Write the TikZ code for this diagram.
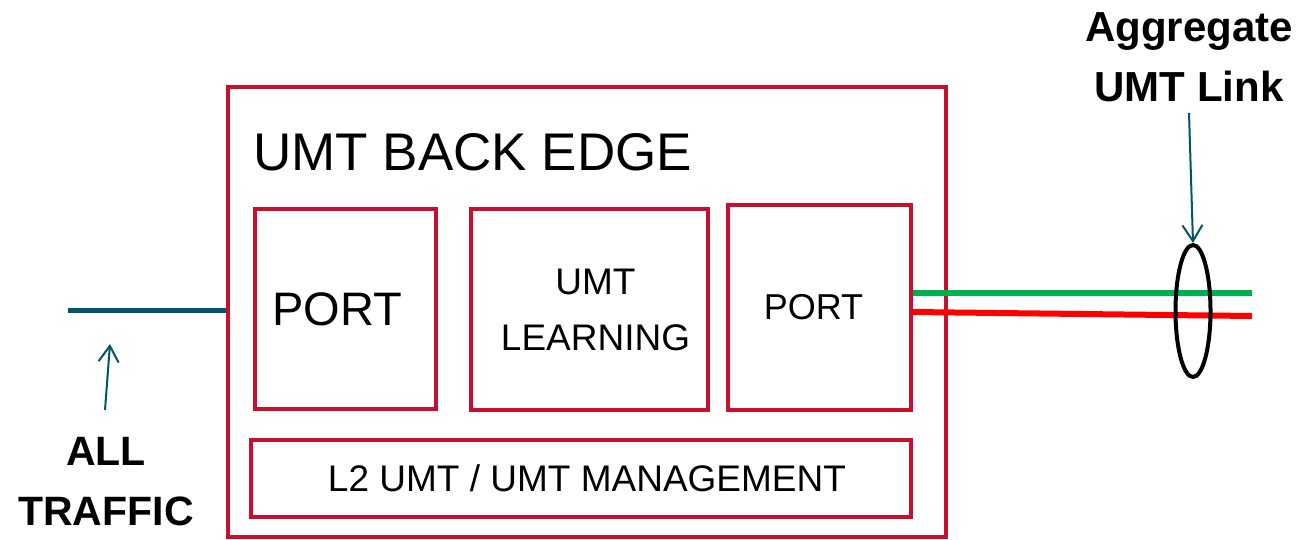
\documentclass[tikz,border=0pt]{standalone}
\usepackage{fontspec}
\setmainfont{Liberation Sans}
\usetikzlibrary{arrows.meta,shapes.geometric}
\definecolor{umtred}{RGB}{200,16,46}
\definecolor{teal2}{RGB}{0,86,104}
\definecolor{lgreen}{RGB}{0,176,80}
\definecolor{lred}{RGB}{255,0,0}
\tikzset{
  box/.style={draw=umtred, line width=4pt, rectangle, inner sep=0pt, align=center},
  lbl/.style={font=\bfseries\fontsize{41}{60}\selectfont, align=center, inner sep=0pt},
  pointer/.style={draw=teal2, line width=2pt, -{Straight Barb[length=16pt,width=20pt,line width=2pt]}},
}
\begin{document}
\begin{tikzpicture}[x=1pt,y=-1pt]
\useasboundingbox (0,0) rectangle (1297,539);
\node[box, minimum width=718pt, minimum height=450pt] (outer) at (587,312) {};
\node[anchor=base west, inner sep=0pt, font=\fontsize{53}{60}\selectfont] (title) at (253,170) {UMT BACK EDGE};
\node[box, minimum width=181pt, minimum height=200pt, font=\fontsize{47}{56}\selectfont] (lport) at (345.5,309) {\hspace*{-16pt}PORT};
\node[box, minimum width=237pt, minimum height=201pt, font=\fontsize{37}{56}\selectfont] (learn) at (589.5,309.5) {\hspace*{12pt}UMT\\\hspace*{12pt}LEARNING};
\node[box, minimum width=183pt, minimum height=205pt, font=\fontsize{36}{44}\selectfont] (rport) at (819.5,307.5) {\raisebox{-3pt}{PORT}\hspace*{12pt}};
\node[box, minimum width=660pt, minimum height=77pt, font=\fontsize{37}{44}\selectfont] (mgmt) at (581,478.5) {\hspace*{12pt}L2 UMT / UMT MANAGEMENT};
% left link
\coordinate (inpt) at (68,310);
\draw[teal2, line width=5pt] (inpt) -- (inpt -| outer.west);
\node[lbl] (alltraffic) at (106,482) {ALL\\TRAFFIC};
\coordinate (inarrow) at (110,344);
\draw[pointer] (105,410) -- (inarrow);
% right links
\coordinate (gend) at (1252,293);
\coordinate (rend) at (1252,316);
\draw[lgreen, line width=6pt] (rport.east |- gend) -- (gend);
\draw[lred, line width=6pt] (913,312) -- (rend);
\node[ellipse, draw=black, line width=4pt, minimum width=35pt, minimum height=132pt, inner sep=0pt] (agg) at (1193,311) {};
\node[lbl, font=\bfseries\fontsize{42}{60}\selectfont] (agglbl) at (1189,57) {Aggregate\\UMT Link};
\draw[pointer] (1189,113) -- (agg.north);
\end{tikzpicture}
\end{document}
